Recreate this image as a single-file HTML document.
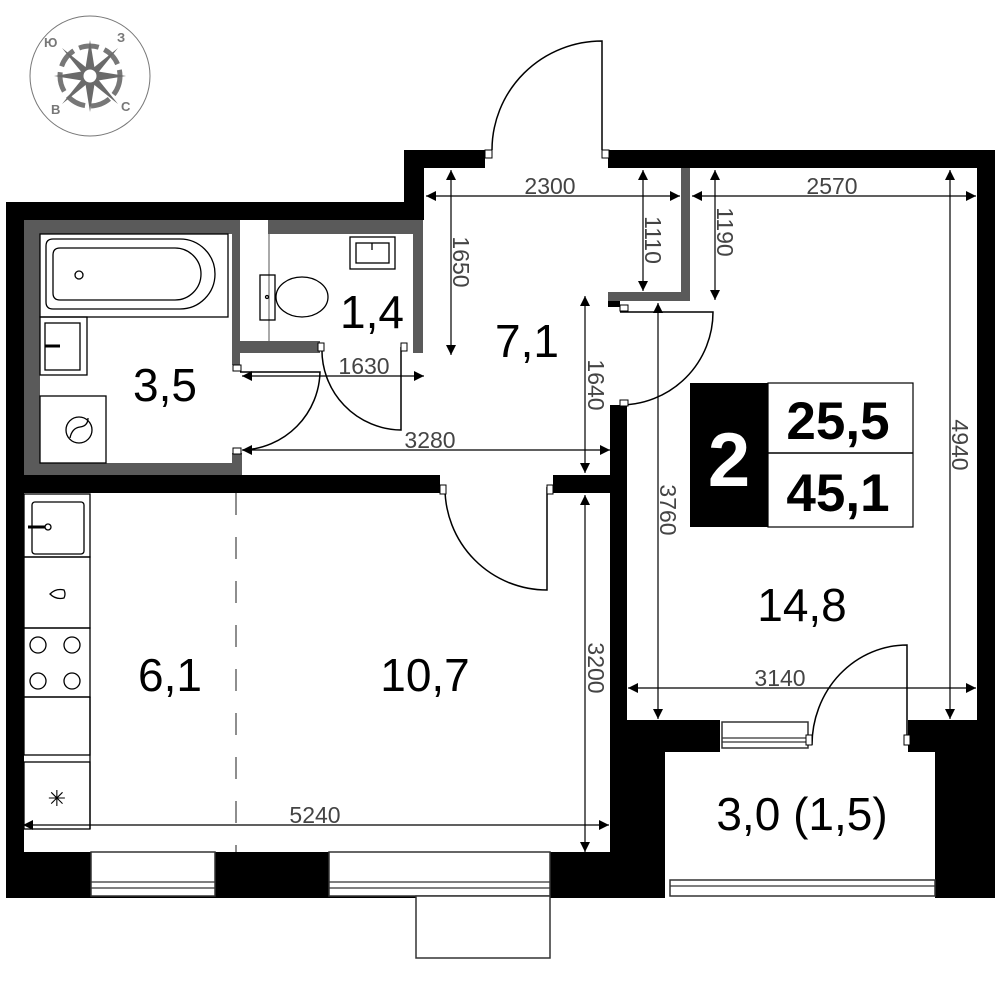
<!DOCTYPE html>
<html><head><meta charset="utf-8"><style>
html,body{margin:0;padding:0;background:#fff}
svg{display:block}
text{font-family:"Liberation Sans","DejaVu Sans",sans-serif}
.d{font-size:23px;fill:#444}
.r{font-size:46px;fill:#000}
</style></head><body>
<svg width="1000" height="1000" viewBox="0 0 1000 1000" xmlns="http://www.w3.org/2000/svg">
<defs>
<marker id="a" viewBox="0 0 10 10" refX="10" refY="5" markerWidth="14" markerHeight="10" markerUnits="userSpaceOnUse" orient="auto-start-reverse"><path d="M0,0L10,5L0,10z" fill="#000"/></marker>
</defs>
<!-- compass -->
<g stroke="#777" fill="none">
<circle cx="90" cy="76" r="60" stroke-width="1"/>
<circle cx="90" cy="76" r="30" stroke-width="5" stroke-dasharray="20 6"/>
</g>
<g fill="#6a6a6a">
<polygon points="90,40 95,71 126,76 95,81 90,112 85,81 54,76 85,71"/>
<polygon points="62,48 93,73 118,104 87,79" />
<polygon points="118,48 87,73 62,104 93,79"/>
<circle cx="90" cy="76" r="8" fill="#fff" stroke="#6a6a6a" stroke-width="3"/>
</g>
<g font-size="13" font-weight="bold" fill="#777" font-family="Liberation Sans">
<text x="44" y="47">Ю</text><text x="117" y="42">З</text><text x="51" y="114">В</text><text x="121" y="111">С</text>
</g>

<!-- gray bathroom walls -->
<g fill="#5a5a5a">
<rect x="22" y="220" width="398" height="14"/>
<rect x="22" y="220" width="18" height="255"/>
<rect x="22" y="463" width="220" height="12"/>
<rect x="232" y="220" width="8" height="145"/>
<rect x="232" y="453" width="10" height="22"/>
<rect x="240" y="341" width="80" height="12"/>
<rect x="413" y="220" width="10" height="133"/>
<rect x="681" y="168" width="9" height="133"/>
<rect x="608" y="292" width="82" height="9"/>
</g>
<rect x="240" y="220" width="28" height="121" fill="#fff"/>
<line x1="269" y1="234" x2="269" y2="341" stroke="#555" stroke-width="1"/>

<!-- black walls -->
<g fill="#000">
<rect x="6" y="202" width="18" height="696"/>
<rect x="6" y="202" width="418" height="18"/>
<rect x="404" y="150" width="20" height="70"/>
<rect x="404" y="150" width="81" height="18"/>
<rect x="608" y="150" width="387" height="18"/>
<rect x="977" y="150" width="18" height="600"/>
<rect x="6" y="475" width="434" height="18"/>
<rect x="553" y="475" width="57" height="18"/>
<rect x="610" y="405" width="17" height="320"/>
<rect x="608" y="301" width="12" height="6"/>
<rect x="610" y="720" width="110" height="32"/>
<rect x="908" y="720" width="87" height="32"/>
<rect x="610" y="720" width="55" height="178"/>
<rect x="935" y="720" width="60" height="178"/>
<rect x="6" y="852" width="604" height="46"/>
</g>
<!-- windows -->
<g fill="#fff" stroke="#333" stroke-width="1.5">
<rect x="91" y="852" width="124" height="44"/>
<rect x="329" y="852" width="221" height="44"/>
<rect x="670" y="880" width="265" height="16"/>
<rect x="722" y="722" width="86" height="26"/>
<rect x="416" y="896" width="134" height="62"/>
</g>
<g stroke="#333" stroke-width="1.2">
<line x1="91" y1="882" x2="215" y2="882"/><line x1="91" y1="888" x2="215" y2="888"/>
<line x1="329" y1="882" x2="550" y2="882"/><line x1="329" y1="888" x2="550" y2="888"/>
<line x1="670" y1="886" x2="935" y2="886"/>
<line x1="722" y1="738" x2="808" y2="738"/><line x1="722" y1="742" x2="808" y2="742"/>
</g>

<!-- fixtures -->
<g fill="none" stroke="#000" stroke-width="1.3">
<rect x="40" y="234" width="188" height="83"/>
<path d="M53,239 H180 A35,35 0 0 1 180,309 H53 Q46,309 46,302 V246 Q46,239 53,239Z"/>
<path d="M60,248 H175 A26,26 0 0 1 175,300 H60 Q53,300 53,293 V255 Q53,248 60,248Z"/>
<circle cx="79" cy="275" r="4"/>
<rect x="40" y="317" width="47" height="58"/>
<rect x="45" y="323" width="35" height="47"/>
<rect x="40" y="396" width="66" height="67"/>
<circle cx="79" cy="430" r="13"/>
<path d="M70,438 Q72,428 80,427 Q88,426 88,418"/>
<rect x="350" y="237" width="45" height="32"/>
<rect x="356" y="243" width="33" height="20"/>
<line x1="372" y1="243" x2="372" y2="250"/>
<rect x="260" y="275" width="15" height="45"/>
<ellipse cx="302" cy="297" rx="26" ry="20"/>
<circle cx="267" cy="297" r="1.5"/>
<rect x="24" y="494" width="66" height="63"/>
<rect x="32" y="502" width="52" height="52" rx="3"/>
<circle cx="48" cy="527" r="3"/>
<rect x="24" y="557" width="66" height="71"/>
<path d="M50,594 Q56,588 64,590 Q66,594 64,598 Q56,600 50,594Z"/>
<rect x="24" y="628" width="66" height="69"/>
<circle cx="38" cy="645" r="8"/><circle cx="72" cy="645" r="8"/>
<circle cx="38" cy="681" r="8"/><circle cx="72" cy="681" r="8"/>
<rect x="24" y="697" width="66" height="58"/>
<rect x="24" y="762" width="66" height="67"/>
<line x1="90" y1="697" x2="90" y2="829"/>
</g>
<line x1="28" y1="527" x2="45" y2="527" stroke="#000" stroke-width="3"/>
<line x1="45" y1="346" x2="60" y2="346" stroke="#000" stroke-width="3"/>
<text x="57" y="806" font-size="22" text-anchor="middle">✳</text>
<line x1="236" y1="493" x2="236" y2="852" stroke="#444" stroke-width="1.2" stroke-dasharray="22 22"/>

<!-- doors -->
<g fill="none" stroke="#000" stroke-width="1.5">
<path d="M602,150 V41 A110,109 0 0 0 492,150"/>
<path d="M240,372 H320 A80,80 0 0 1 243,450"/>
<path d="M401,347 V430 A80,80 0 0 1 322,347"/>
<path d="M547,487 V590 A102,102 0 0 1 445,487"/>
<path d="M620,312 H713 A93,93 0 0 1 620,405"/>
<path d="M907,745 V645 A95,100 0 0 0 812,745"/>
</g>
<g fill="#fff" stroke="#000" stroke-width="1">
<rect x="485" y="150" width="7" height="8"/><rect x="602" y="150" width="7" height="8"/>
<rect x="233" y="365" width="8" height="6"/><rect x="233" y="448" width="8" height="6"/>
<rect x="318" y="343" width="6" height="8"/><rect x="401" y="343" width="6" height="8"/>
<rect x="440" y="485" width="6" height="9"/><rect x="547" y="485" width="6" height="9"/>
<rect x="620" y="305" width="8" height="6"/><rect x="620" y="400" width="8" height="6"/>
<rect x="904" y="735" width="6" height="10"/><rect x="806" y="735" width="6" height="10"/>
</g>

<!-- dimensions -->
<g stroke="#000" stroke-width="1.2" fill="none" marker-start="url(#a)" marker-end="url(#a)">
<line x1="426" y1="196" x2="680" y2="196"/>
<line x1="692" y1="196" x2="976" y2="196"/>
<line x1="451" y1="170" x2="451" y2="355"/>
<line x1="643" y1="170" x2="643" y2="291"/>
<line x1="715" y1="170" x2="715" y2="300"/>
<line x1="585" y1="296" x2="585" y2="473"/>
<line x1="242" y1="376" x2="424" y2="376"/>
<line x1="242" y1="450" x2="610" y2="450"/>
<line x1="658" y1="303" x2="658" y2="719"/>
<line x1="950" y1="170" x2="950" y2="719"/>
<line x1="628" y1="688" x2="976" y2="688"/>
<line x1="585" y1="495" x2="585" y2="852"/>
<line x1="23" y1="825" x2="609" y2="825"/>
</g>
<line x1="401" y1="376" x2="401" y2="430" stroke="#000" stroke-width="1"/>
<g class="d">
<text x="550" y="194" text-anchor="middle">2300</text>
<text x="832" y="194" text-anchor="middle">2570</text>
<text x="364" y="374" text-anchor="middle">1630</text>
<text x="430" y="448" text-anchor="middle">3280</text>
<text x="780" y="686" text-anchor="middle">3140</text>
<text x="315" y="823" text-anchor="middle">5240</text>
<text transform="translate(453,262) rotate(90)" text-anchor="middle">1650</text>
<text transform="translate(645,240) rotate(90)" text-anchor="middle">1110</text>
<text transform="translate(717,232) rotate(90)" text-anchor="middle">1190</text>
<text transform="translate(588,385) rotate(90)" text-anchor="middle">1640</text>
<text transform="translate(660,510) rotate(90)" text-anchor="middle">3760</text>
<text transform="translate(952,445) rotate(90)" text-anchor="middle">4940</text>
<text transform="translate(588,668) rotate(90)" text-anchor="middle">3200</text>
</g>

<!-- info box -->
<rect x="690" y="383" width="78" height="144" fill="#000"/>
<rect x="768" y="383" width="145" height="144" fill="#fff" stroke="#000" stroke-width="1.2"/>
<line x1="768" y1="453" x2="913" y2="453" stroke="#000" stroke-width="1.5"/>
<text x="729" y="486" font-size="76" font-weight="bold" fill="#fff" text-anchor="middle">2</text>
<text x="838" y="439" font-size="53" font-weight="bold" text-anchor="middle">25,5</text>
<text x="838" y="511" font-size="53" font-weight="bold" text-anchor="middle">45,1</text>

<!-- room labels -->
<g class="r" text-anchor="middle">
<text x="165" y="401">3,5</text>
<text x="372" y="328">1,4</text>
<text x="527" y="357">7,1</text>
<text x="170" y="691">6,1</text>
<text x="425" y="691">10,7</text>
<text x="802" y="621">14,8</text>
<text x="802" y="830">3,0 (1,5)</text>
</g>
</svg>
</body></html>
